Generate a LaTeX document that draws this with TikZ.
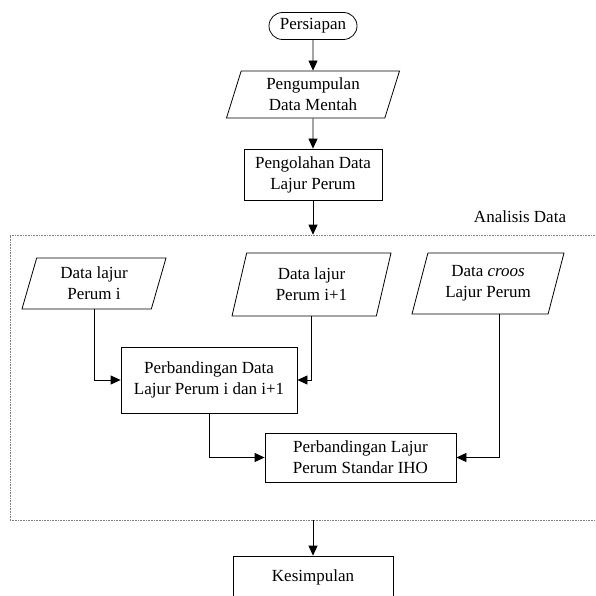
\documentclass[tikz,border=0pt]{standalone}
\usepackage{fontspec}
\setmainfont{Liberation Serif}
\usetikzlibrary{shapes.geometric,shapes.misc,arrows.meta}

\begin{document}
\begin{tikzpicture}
[x=1pt,y=-1pt,font=\fontsize{17}{21}\selectfont]
\tikzset{term/.style={rounded rectangle,draw,line width=.8pt,minimum width=88pt,minimum height=27pt,inner sep=0pt}}
\tikzset{io/.style={trapezium,trapezium left angle=66,trapezium right angle=114,trapezium stretches body,draw,line width=.8pt,align=center,inner sep=0pt}}
\tikzset{proc/.style={rectangle,draw,line width=.8pt,align=center,inner sep=0pt}}
\tikzset{frame/.style={rectangle,draw=gray,line width=.6pt,dash pattern=on .8pt off .8pt,inner sep=0pt}}
\tikzset{arr/.style={line width=.8pt,-{Triangle[length=10pt,width=9pt]}}}
\clip (0,0) rectangle (595,596);
\node [term] (persiapan) at (313,26) {Persiapan};
\node [io,minimum width=173pt,minimum height=47pt] (kumpul) at (313,94.5) {Pengumpulan\\Data Mentah};
\node [proc,minimum width=138pt,minimum height=51pt] (olah) at (313,174.5) {Pengolahan Data\\Lajur Perum};
\node [frame,minimum width=590pt,minimum height=285pt] (analisis) at (305,377.5) {};
\node (lbl) at (520,217) {Analisis Data};
\node [io,minimum width=144pt,minimum height=51pt] (di) at (94,283.5) {Data lajur\\Perum i};
\node [io,minimum width=159pt,minimum height=63pt] (di1) at (311.5,284.5) {Data lajur\\Perum i+1};
\node [io,minimum width=152pt,minimum height=61pt] (croos) at (488,283.5) {Data \textit{croos}\\Lajur Perum};
\node [proc,minimum width=176pt,minimum height=66pt] (banding1) at (209,380) {Perbandingan Data\\Lajur Perum i dan i+1};
\node [proc,minimum width=191pt,minimum height=49pt] (banding2) at (360.5,457.5) {Perbandingan Lajur\\Perum Standar IHO};
\node [proc,minimum width=160pt,minimum height=42pt] (simpul) at (313,577) {Kesimpulan};

% alur utama
\draw [arr] (persiapan) -- (kumpul);
\draw [arr] (kumpul) -- (olah);
\draw [arr] (olah.south) -- (olah.south |- analisis.north);
\draw [arr] (analisis.south -| simpul) -- (simpul.north);

% di dalam analisis data
\draw [arr] (di.south) |- (banding1.west);
\draw [arr] (di1.south) |- (banding1.east);
\draw [arr] (banding1.south) |- (banding2.west);
\draw [arr] ([xshift=11pt]croos.south) |- (banding2.east);
\end{tikzpicture}
\end{document}
